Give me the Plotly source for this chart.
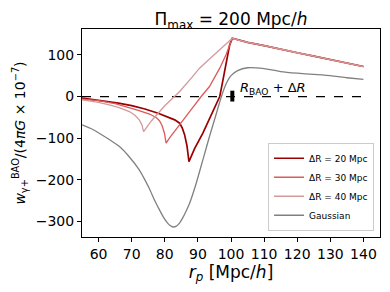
import plotly.graph_objects as go

# ---- data ----
# shared decay beyond the peak (all three top-hat curves coincide there)
r_tail = [102, 105, 110, 115, 120, 125, 130, 135, 140]
w_tail = [136, 130, 122, 113, 105, 97, 89, 80, 72]

r20 = [55, 58, 62, 66, 70, 74, 78, 81.4, 83, 84.5, 85.3, 86, 86.7, 87.3, 89, 91.5, 94.5, 96.6, 97.1, 98.4,
       99.6, 100.4] + r_tail
w20 = [-4, -7, -11, -16, -22, -30, -40, -50, -56, -64, -76, -92, -118, -156, -125, -88, -36, 0, 20, 76,
       124, 140] + w_tail

r30 = [55, 60, 65, 69.3, 72, 75.4, 77.5, 78.4, 79.2, 79.9, 80.4, 81.4, 84, 87.5, 91, 93.5, 96.6, 98.5,
       100.4] + r_tail
w30 = [-6, -10, -17, -26, -33, -42, -51, -58, -70, -88, -112, -100, -72, -36, 0, 24, 68, 100,
       140] + w_tail

r40 = [55, 60, 63.2, 66, 69.3, 71, 72.3, 73.1, 73.6, 76, 80, 84.5, 88, 90.5, 93.5, 96.6, 100.4] + r_tail
w40 = [-8, -14, -20, -26, -36, -45, -56, -68, -84, -58, -22, 12, 44, 68, 90, 112, 140] + w_tail

rg = [55, 58, 60.2, 63, 66.3, 69, 72.3, 74, 75.4, 77, 78.4, 79.5, 80.5, 81.5, 82.5, 83.5, 84.5, 85.5, 86.5,
      87.5, 89.5, 91.5, 93.5, 95.6, 97.1, 98.5, 100, 102, 105, 110, 115, 120, 125, 130, 135, 140]
wg = [-68, -78, -88, -102, -120, -142, -176, -200, -222, -250, -272, -288, -300, -309, -313, -311, -303, -290,
      -274, -256, -208, -152, -96, -40, 0, 30, 50, 62, 69, 67, 60, 56, 53, 50, 45, 41]

names = ["ΔR = 20 Mpc", "ΔR = 30 Mpc", "ΔR = 40 Mpc", "Gaussian"]
colors = ["#9b0000", "#dc5a5a", "#d39a9a", "#808080"]

r_bao = 100.4
bar_lo, bar_hi = -12, 14
zero_x = [55, 140]
x_ticks = [60, 70, 80, 90, 100, 110, 120, 130, 140]
y_ticks = [-300, -200, -100, 0, 100]

FONT = "DejaVu Sans"
W, H = 382, 284  # page body has an 8px margin

fig = go.Figure()
fig.add_trace(go.Scatter(x=zero_x, y=[0, 0], mode="lines",
                         line=dict(color="black", width=1.2, dash="dash"), showlegend=False))
fig.add_trace(go.Scatter(x=[r_bao, r_bao], y=[bar_lo, bar_hi], mode="lines",
                         line=dict(color="black", width=4), showlegend=False))
for xs, ys, nm, c, w in [(r20, w20, names[0], colors[0], 1.7),
                         (r30, w30, names[1], colors[1], 1.3),
                         (r40, w40, names[2], colors[2], 1.3)]:
    fig.add_trace(go.Scatter(x=xs, y=ys, mode="lines", name=nm, line=dict(color=c, width=w)))
fig.add_trace(go.Scatter(x=rg, y=wg, mode="lines", name=names[3],
                         line=dict(color=colors[3], width=1.3, shape="spline", smoothing=0.5)))

fig.add_annotation(x=102.2, y=20, xref="x", yref="y", xanchor="left", yanchor="middle",
                   text="<i>R</i><sub>BAO</sub> + Δ<i>R</i>", showarrow=False,
                   font=dict(family=FONT, size=13, color="black"))

fig.update_layout(
    width=W, height=H,
    margin=dict(l=74, r=10, t=21, b=55),
    plot_bgcolor="white", paper_bgcolor="white",
    font=dict(family=FONT, color="black"),
    title=dict(text="Π<sub>max</sub> = 200 Mpc/<i>h</i>", x=0.5, xref="paper", xanchor="center",
               y=1 - 11 / H, yanchor="middle", yref="container", font=dict(size=17)),
    legend=dict(x=0.98, y=0.03, xanchor="right", yanchor="bottom",
                bgcolor="white", bordercolor="#cccccc", borderwidth=1,
                font=dict(size=9), itemwidth=30, tracegroupgap=0),
    showlegend=True,
)
fig.update_xaxes(range=[55, 145], tickvals=x_ticks, ticks="outside", ticklen=4, tickcolor="black",
                 showline=True, linecolor="black", linewidth=1, mirror=True, showgrid=False,
                 zeroline=False, tickfont=dict(size=14), automargin=False,
                 title=dict(text="<i>r</i><sub><i>p</i></sub> [Mpc/<i>h</i>]", font=dict(size=17), standoff=2))
fig.update_yaxes(range=[-337, 162], tickvals=y_ticks, ticks="outside", ticklen=4, tickcolor="black",
                 showline=True, linecolor="black", linewidth=1, mirror=True, showgrid=False,
                 zeroline=False, tickfont=dict(size=14), automargin=False,
                 title=dict(text="<i>w</i><sub>γ+</sub><sup>BAO</sup>/(4<i>πG</i> × 10<sup>−7</sup>)",
                            font=dict(size=14), standoff=6))

fig.write_html("out.html")
